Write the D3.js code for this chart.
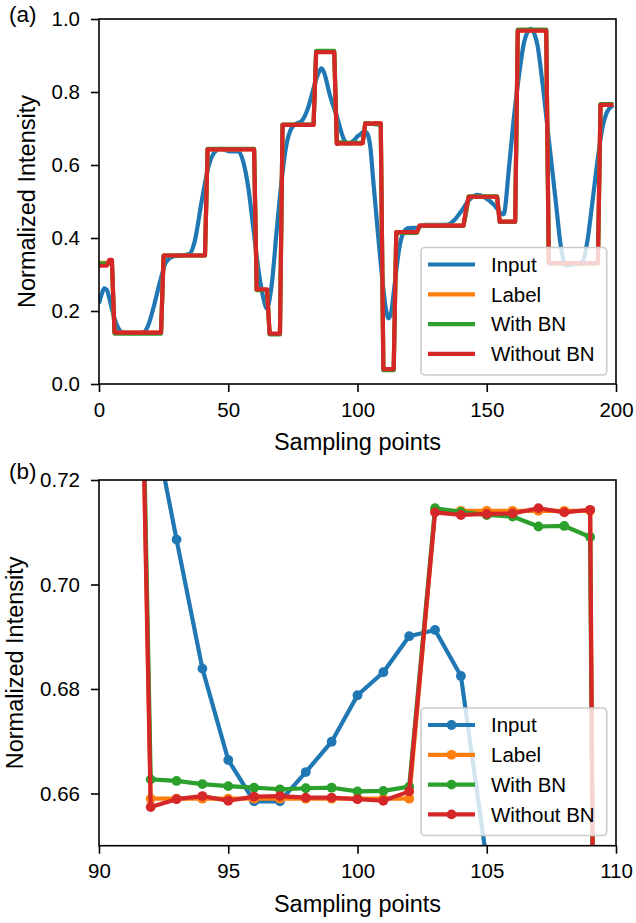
<!DOCTYPE html>
<html><head><meta charset="utf-8">
<script src="https://cdn.jsdelivr.net/npm/d3@7"></script>
<style>
body{margin:0;background:#fff}
svg{display:block}
text{font-family:"Liberation Sans",Arial,Helvetica,sans-serif;fill:#000}
</style>
</head><body>
<svg id="c" width="636" height="923"></svg>
<script>
// ---------------- DATA ----------------
const seriesNames  = ["Input", "Label", "With BN", "Without BN"];
const seriesColors = ["#1f77b4", "#ff7f0e", "#2ca02c", "#d62728"];
const sampleCount = 200;

const xTicksA = [0, 50, 100, 150, 200];
const yTicksA = [0.0, 0.2, 0.4, 0.6, 0.8, 1.0];
const xTicksB = [90, 95, 100, 105, 110];
const yTicksB = [0.66, 0.68, 0.70, 0.72];

// Input signal knots [sample, value]
const inputKnots = [
  [0,0.221],[1,0.245],[2,0.262],[3,0.258],[4,0.235],[5,0.205],[6,0.18],[7,0.16],[8,0.147],[9.5,0.141],
  [13,0.14],[17,0.141],[19,0.16],[21,0.207],[23.6,0.28],[26,0.335],[29,0.35],[32,0.352],[35,0.356],
  [37,0.39],[39.7,0.50],[42.2,0.591],[44.8,0.636],[47,0.644],[51,0.637],[54,0.637],[55.8,0.609],
  [57.8,0.536],[59.7,0.427],[61.6,0.317],[63.6,0.235],[64.9,0.207],[66.8,0.271],[68.7,0.417],
  [70.6,0.554],[72.5,0.655],[74.4,0.70],[76.5,0.714],[78.3,0.72],[80.8,0.755],[83,0.81],
  [84,0.835],[85,0.853],[86,0.865],[87,0.855],[88,0.83],[89,0.80],[90,0.775],[91,0.754],
  [92,0.734],[93,0.7086],[94,0.6839],[95,0.6664],[96,0.6585],[97,0.6585],[98,0.6641],[99,0.6699],
  [100,0.6788],[101,0.6832],[102,0.6901],[103,0.6913],[104,0.6825],[105,0.647],[106,0.565],
  [107,0.485],[108,0.405],[109,0.33],[110,0.26],[111,0.205],[112,0.18],[113,0.195],[114,0.25],
  [115,0.31],[116,0.365],[117,0.40],[118,0.418],[119,0.425],[120,0.427],[123,0.428],[126,0.436],
  [131,0.436],[135,0.437],[137.5,0.449],[140,0.472],[143.2,0.504],[146.4,0.518],[149,0.512],
  [152.9,0.49],[155.5,0.468],[156.5,0.465],[158.7,0.60],[160.6,0.737],[162.5,0.847],[164.5,0.938],
  [167,0.973],[169.6,0.929],[171.5,0.828],[174.1,0.664],[176.7,0.50],[178.6,0.38],[180.6,0.325],
  [183.8,0.328],[187,0.335],[188.9,0.39],[190.9,0.50],[192.8,0.609],[194.7,0.70],[196.6,0.746],
  [198.6,0.762],[199,0.764]
];

// Piecewise-constant segments [firstSample, lastSample, value]
const labelSteps = [
  [0,5,0.332],[6,24,0.141],[25,41,0.352],[42,60,0.643],[61,65,0.258],[66,70,0.137],[71,83,0.710],
  [84,91,0.910],[92,102,0.659],[103,109,0.7141],[110,114,0.041],[115,123,0.416],[124,141,0.434],
  [142,142,0.47],[143,154,0.513],[155,161,0.445],[162,173,0.969],[174,193,0.331],[194,199,0.765]
];
const withBNSteps = [
  [0,5,0.330],[6,24,0.138],[25,41,0.352],[42,60,0.644],[61,65,0.257],[66,70,0.136],[71,83,0.711],
  [84,91,0.913],[92,102,0.661],[103,109,0.713],[110,114,0.038],[115,123,0.414],[124,141,0.433],
  [142,142,0.47],[143,154,0.514],[155,161,0.444],[162,173,0.971],[174,193,0.330],[194,199,0.767]
];
const withoutBNSteps = [
  [0,3,0.324],[4,5,0.340],[6,24,0.141],[25,41,0.352],[42,60,0.643],[61,65,0.259],[66,70,0.138],
  [71,83,0.710],[84,91,0.909],[92,102,0.659],[103,109,0.714],[110,114,0.041],[115,123,0.416],
  [124,141,0.434],[142,142,0.48],[143,154,0.513],[155,161,0.445],[162,173,0.968],[174,193,0.331],
  [194,199,0.765]
];
// Per-sample values in the zoomed window (panel b)
const withBNDetail = [
  [92,0.6627],[93,0.6624],[94,0.6618],[95,0.6614],[96,0.6611],[97,0.6608],[98,0.6610],[99,0.6611],
  [100,0.6604],[101,0.6605],[102,0.6613],[103,0.7146],[104,0.7139],[105,0.7133],[106,0.7130],
  [107,0.7111],[108,0.7112],[109,0.7091]
];
const withoutBNDetail = [
  [92,0.6574],[93,0.6589],[94,0.6595],[95,0.6586],[96,0.6594],[97,0.6595],[98,0.6592],[99,0.6592],
  [100,0.6589],[101,0.6586],[102,0.6604],[103,0.7138],[104,0.7133],[105,0.7135],[106,0.7136],
  [107,0.7146],[108,0.7138],[109,0.7143]
];

// ---------------- BUILD ----------------
function expand(steps, detail) {
  const out = [];
  steps.forEach(([a, b, v]) => { for (let i = a; i <= b; i++) out[i] = v; });
  (detail || []).forEach(([i, v]) => { out[i] = v; });
  return d3.range(sampleCount).map(i => [i, out[i]]);
}
const seriesData = [
  inputKnots,
  expand(labelSteps),
  expand(withBNSteps, withBNDetail),
  expand(withoutBNSteps, withoutBNDetail)
];

const svg = d3.select("#c");
const FONT_TICK = 20.5, FONT_LABEL = 23.5;

function drawPanel(cfg) {
  const {L, R, T, B} = cfg;
  const g = svg.append("g");
  const x = d3.scaleLinear().domain(cfg.xDomain).range([L, R]);
  const y = d3.scaleLinear().domain(cfg.yDomain).range([B, T]);

  const clipId = "clip" + cfg.id;
  svg.append("clipPath").attr("id", clipId)
    .append("rect").attr("x", L).attr("y", T).attr("width", R - L).attr("height", B - T);

  const plot = g.append("g").attr("clip-path", `url(#${clipId})`);
  const lw = 4.2;

  seriesData.forEach((d, k) => {
    let pts = d;
    if (cfg.markers) pts = d.filter(p => p[0] >= cfg.xDomain[0] - 2 && p[0] <= cfg.xDomain[1] + 2 && Number.isInteger(p[0]));
    const line = d3.line().x(p => x(p[0])).y(p => y(p[1]))
      .curve(k === 0 && !cfg.markers ? d3.curveMonotoneX : d3.curveLinear);
    plot.append("path").datum(pts).attr("d", line)
      .attr("fill", "none").attr("stroke", seriesColors[k]).attr("stroke-width", lw)
      .attr("stroke-linejoin", "round").attr("stroke-linecap", "butt");
    if (cfg.markers) {
      plot.append("g").selectAll("circle").data(pts).join("circle")
        .attr("cx", p => x(p[0])).attr("cy", p => y(p[1])).attr("r", 4.9)
        .attr("fill", seriesColors[k]);
    }
  });

  // axes
  const xa = g.append("g").attr("transform", `translate(0,${B})`)
    .call(d3.axisBottom(x).tickValues(cfg.xTicks).tickFormat(d3.format("d")).tickSize(8).tickPadding(10));
  const ya = g.append("g").attr("transform", `translate(${L},0)`)
    .call(d3.axisLeft(y).tickValues(cfg.yTicks).tickFormat(d3.format(cfg.yFmt)).tickSize(8).tickPadding(11));
  [xa, ya].forEach(a => {
    a.select(".domain").remove();
    a.selectAll("line").attr("stroke", "#000").attr("stroke-width", 1.6);
    a.selectAll("text").attr("font-size", FONT_TICK).attr("font-family", "Liberation Sans, Arial, sans-serif").attr("fill", "#000");
  });
  // frame
  g.append("rect").attr("x", L).attr("y", T).attr("width", R - L).attr("height", B - T)
    .attr("fill", "none").attr("stroke", "#000").attr("stroke-width", 1.6);

  // axis labels
  g.append("text").attr("x", (L + R) / 2).attr("y", B + 66).attr("text-anchor", "middle")
    .attr("font-size", FONT_LABEL).text("Sampling points");
  g.append("text").attr("transform", `translate(${cfg.yLabelX},${(T + B) / 2}) rotate(-90)`)
    .attr("text-anchor", "middle").attr("font-size", FONT_LABEL).text("Normalized Intensity");
  // panel tag
  g.append("text").attr("x", 9).attr("y", cfg.tagY).attr("font-size", 22.5).text(cfg.tag);

  // legend
  const lg = g.append("g");
  lg.append("rect").attr("x", 421).attr("y", cfg.legTop).attr("width", 185.7).attr("height", 127.5)
    .attr("rx", 4).attr("ry", 4)
    .attr("fill", "#fff").attr("fill-opacity", 0.8).attr("stroke", "#cccccc").attr("stroke-width", 1.6);
  seriesNames.forEach((name, k) => {
    const cy = cfg.legTop + 17 + k * 29.8;
    lg.append("line").attr("x1", 428).attr("x2", 475).attr("y1", cy).attr("y2", cy)
      .attr("stroke", seriesColors[k]).attr("stroke-width", lw);
    if (cfg.markers) lg.append("circle").attr("cx", 451.5).attr("cy", cy).attr("r", 4.9).attr("fill", seriesColors[k]);
    lg.append("text").attr("x", 491).attr("y", cy + 7.3).attr("font-size", FONT_TICK).text(name);
  });
}

drawPanel({id: "a", L: 99, R: 616, T: 19, B: 384, xDomain: [0, 200], yDomain: [0, 1],
  xTicks: xTicksA, yTicks: yTicksA, yFmt: ".1f", markers: false, yLabelX: 35, tag: "(a)", tagY: 21.5, legTop: 247.5});
drawPanel({id: "b", L: 99, R: 616, T: 480, B: 845.7, xDomain: [90, 110], yDomain: [0.65, 0.72],
  xTicks: xTicksB, yTicks: yTicksB, yFmt: ".2f", markers: true, yLabelX: 23, tag: "(b)", tagY: 479, legTop: 708});
</script>
</body></html>
